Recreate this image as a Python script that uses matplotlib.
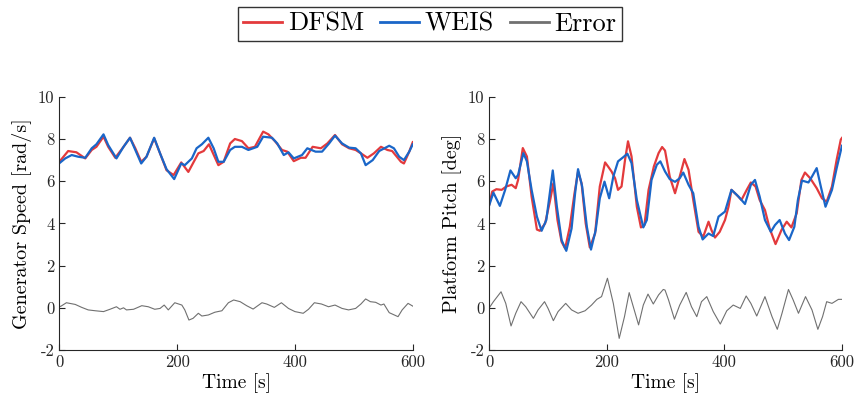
import numpy as np
import matplotlib
matplotlib.use("Agg")
import matplotlib.pyplot as plt

plt.rcParams["font.family"] = "serif"
plt.rcParams["font.serif"] = ["cmr10"]
plt.rcParams["mathtext.fontset"] = "cm"
plt.rcParams["axes.unicode_minus"] = False

# Generator speed [rad/s]
t_gs_dfsm = [0, 15, 29, 44, 55, 63, 75, 83, 95, 109, 120, 129, 139, 148, 161, 171, 182, 194, 207, 219,
             236, 245, 254, 270, 279, 290, 298, 310, 321, 332, 346, 355, 366, 378, 387, 398, 410, 418, 430,
             444, 455, 468, 480, 492, 503, 512, 523, 534, 546, 557, 565, 580, 585, 594, 600]
gs_dfsm = [6.92, 7.43, 7.37, 7.08, 7.48, 7.63, 8.11, 7.63, 7.11, 7.63, 8.06, 7.56, 6.92, 7.16, 8.03, 7.32,
           6.52, 6.29, 6.89, 6.44, 7.32, 7.43, 7.75, 6.76, 6.92, 7.79, 8.0, 7.9, 7.56, 7.63, 8.35, 8.22, 7.9,
           7.48, 7.4, 6.95, 7.11, 7.11, 7.63, 7.56, 7.79, 8.19, 7.75, 7.56, 7.48, 7.32, 7.11, 7.32, 7.63, 7.48,
           7.43, 6.92, 6.84, 7.4, 7.85]
t_gs_weis = [0, 10, 21, 32, 44, 55, 63, 75, 83, 97, 109, 120, 129, 139, 148, 161, 171, 182, 195, 207, 213,
             225, 233, 242, 253, 262, 270, 279, 290, 298, 310, 321, 336, 346, 361, 370, 381, 389, 398, 412,
             421, 435, 446, 458, 468, 480, 492, 503, 512, 520, 532, 543, 560, 568, 577, 585, 594, 600]
gs_weis = [6.85, 7.08, 7.24, 7.16, 7.11, 7.56, 7.75, 8.22, 7.71, 7.08, 7.63, 8.06, 7.48, 6.84, 7.16, 8.06,
           7.32, 6.57, 6.1, 6.84, 6.76, 7.08, 7.56, 7.75, 8.06, 7.56, 6.92, 6.92, 7.48, 7.63, 7.63, 7.48, 7.63,
           8.11, 8.06, 7.79, 7.24, 7.37, 7.08, 7.24, 7.56, 7.4, 7.4, 7.79, 8.16, 7.79, 7.59, 7.56, 7.32, 6.76,
           7.0, 7.43, 7.68, 7.56, 7.16, 7.0, 7.4, 7.75]
t_gs_err = [0, 3, 12, 27, 38, 49, 61, 75, 86, 97, 103, 109, 114, 126, 140, 151, 162, 171, 178, 185, 196,
            208, 213, 220, 227, 236, 242, 253, 264, 276, 287, 296, 307, 318, 329, 344, 352, 365, 377, 389,
            400, 414, 423, 433, 445, 457, 468, 480, 491, 503, 512, 520, 528, 537, 546, 551, 560, 575, 582,
            592, 600]
gs_err = [0.05, 0.08, 0.24, 0.16, 0.02, -0.1, -0.14, -0.18, -0.07, 0.05, -0.07, 0.0, -0.1, -0.07, 0.1,
          0.05, -0.07, -0.03, 0.13, -0.1, 0.24, 0.13, -0.1, -0.58, -0.5, -0.26, -0.39, -0.34, -0.21, -0.14,
          0.24, 0.37, 0.29, 0.1, -0.06, 0.24, 0.18, 0.02, 0.24, -0.03, -0.18, -0.26, -0.07, 0.24, 0.18, 0.05,
          0.13, -0.03, -0.1, -0.03, 0.18, 0.42, 0.29, 0.26, 0.13, 0.18, -0.23, -0.42, -0.1, 0.21, 0.08]

# Platform pitch [deg]
t_pp_dfsm = [0, 5, 12, 21, 29, 38, 45, 49, 57, 64, 72, 81, 86, 95, 103, 109, 116, 123, 129, 137, 145,
             151, 157, 164, 171, 180, 188, 197, 202, 208, 214, 219, 225, 231, 236, 242, 251, 258, 264, 271,
             280, 288, 294, 299, 307, 316, 324, 332, 339, 347, 356, 364, 373, 378, 384, 392, 401, 407, 412,
             421, 429, 438, 445, 453, 460, 469, 477, 487, 497, 506, 514, 523, 531, 537, 546, 557, 566, 574,
             583, 591, 598, 600]
pp_dfsm = [4.9, 5.51, 5.62, 5.59, 5.75, 5.83, 5.67, 6.06, 7.57, 7.17, 5.27, 3.71, 3.65, 4.0, 5.03, 5.9,
           4.16, 3.13, 2.81, 3.84, 5.43, 6.46, 5.9, 4.0, 2.86, 3.52, 5.75, 6.89, 6.7, 6.46, 6.14, 5.59, 5.75,
           7.02, 7.89, 7.17, 4.79, 3.81, 3.92, 5.59, 6.7, 7.33, 7.62, 7.45, 6.22, 5.43, 6.22, 7.05, 6.54,
           5.11, 3.6, 3.37, 4.08, 3.68, 3.33, 3.6, 4.16, 4.79, 5.59, 5.35, 5.11, 5.59, 5.94, 5.75, 5.11, 4.63,
           3.76, 3.02, 3.68, 4.08, 3.81, 4.48, 6.06, 6.41, 6.14, 5.67, 5.19, 5.03, 5.75, 7.02, 7.97, 8.05]
t_pp_weis = [0, 7, 18, 27, 36, 45, 49, 58, 64, 72, 81, 89, 97, 108, 115, 123, 131, 140, 146, 151, 158,
             166, 173, 181, 188, 196, 204, 211, 219, 228, 235, 242, 251, 262, 268, 276, 285, 291, 299, 307,
             316, 324, 330, 339, 347, 356, 363, 373, 381, 390, 401, 412, 424, 435, 445, 452, 460, 469, 479,
             486, 494, 503, 510, 519, 525, 532, 543, 549, 557, 564, 572, 583, 591, 600]
pp_weis = [4.87, 5.46, 4.83, 5.59, 6.51, 6.14, 6.3, 7.33, 6.94, 5.59, 4.32, 3.65, 4.16, 6.51, 4.79, 3.21,
           2.7, 3.76, 5.43, 6.57, 5.75, 3.84, 2.76, 3.68, 5.19, 5.98, 5.19, 6.22, 6.94, 7.14, 7.3, 6.86, 5.11,
           3.81, 4.16, 6.06, 6.78, 6.94, 6.46, 6.1, 5.97, 6.14, 6.41, 5.83, 5.43, 3.84, 3.24, 3.52, 3.4, 4.32,
           4.56, 5.59, 5.27, 4.92, 5.83, 6.06, 5.27, 4.16, 3.6, 3.92, 4.16, 3.52, 3.21, 3.84, 5.11, 6.03, 5.94,
           6.22, 6.62, 5.75, 4.79, 5.59, 6.62, 7.68]
t_pp_err = [0, 7, 20, 28, 37, 45, 54, 62, 75, 83, 94, 100, 109, 117, 130, 140, 151, 163, 174, 183, 191,
            201, 211, 221, 230, 238, 245, 254, 262, 270, 279, 288, 296, 299, 305, 315, 324, 335, 344, 353,
            361, 370, 381, 393, 404, 415, 427, 437, 445, 455, 469, 481, 490, 498, 509, 517, 526, 538, 549,
            559, 567, 574, 583, 594, 600]
pp_err = [0.0, 0.29, 0.76, 0.21, -0.86, -0.26, 0.29, 0.05, -0.5, -0.1, 0.29, -0.03, -0.61, -0.18, 0.21,
          -0.1, -0.26, -0.14, 0.13, 0.4, 0.53, 1.4, 0.21, -1.45, -0.42, 0.72, 0.05, -0.81, 0.13, 0.65, 0.18,
          0.61, 0.87, 0.84, 0.37, -0.54, 0.13, 0.73, 0.05, -0.42, 0.29, 0.53, -0.18, -0.77, -0.14, 0.13,
          -0.03, 0.56, 0.21, -0.39, 0.53, -0.42, -1.02, -0.26, 0.87, 0.37, -0.26, 0.53, -0.1, -1.02, -0.42,
          0.29, 0.21, 0.4, 0.4]

ylabels = ["Generator Speed [rad/s]", "Platform Pitch [deg]"]
yticks = [-2, 0, 2, 4, 6, 8, 10]
xticks = [0, 200, 400, 600]

red = "#e33a3c"
blue = "#1a66c8"
grey = "#707070"

fig = plt.figure(figsize=(8.56, 4.0), dpi=100)
ax1 = fig.add_axes([0.0693, 0.125, 0.4129, 0.633])
ax2 = fig.add_axes([0.5716, 0.125, 0.412, 0.633])

panels = [
    (ax1, t_gs_dfsm, gs_dfsm, t_gs_weis, gs_weis, t_gs_err, gs_err),
    (ax2, t_pp_dfsm, pp_dfsm, t_pp_weis, pp_weis, t_pp_err, pp_err),
]

for i, (ax, td, yd, tw, yw, te, ye) in enumerate(panels):
    l1, = ax.plot(td, yd, color=red, lw=1.6, label="DFSM")
    l2, = ax.plot(tw, yw, color=blue, lw=1.6, label="WEIS")
    l3, = ax.plot(te, ye, color=grey, lw=0.8, label="Error")
    ax.set_xlim(0, 600)
    ax.set_ylim(-2, 10)
    ax.set_xticks(xticks)
    ax.set_yticks(yticks)
    ax.set_yticklabels([str(v) for v in yticks])
    ax.set_xticklabels([str(v) for v in xticks])
    ax.tick_params(direction="in", length=4, width=0.8, labelsize=12, colors="#262626")
    for s in ["top", "right"]:
        ax.spines[s].set_visible(False)
    for s in ["left", "bottom"]:
        ax.spines[s].set_color("#262626")
        ax.spines[s].set_linewidth(0.8)
    ax.set_xlabel("Time [s]", fontsize=14, labelpad=2)
    ax.set_ylabel(ylabels[i], fontsize=14.5, labelpad=4)

fig.legend(handles=[l1, l2, l3], loc="center", bbox_to_anchor=(0.502, 0.94), ncol=3,
           fontsize=19, frameon=True, fancybox=False, edgecolor="black", handlelength=1.5,
           handletextpad=0.2, columnspacing=0.6, borderpad=0.2, borderaxespad=0)
leg = fig.legends[0]
leg.get_frame().set_linewidth(1.0)
for h in leg.get_lines():
    h.set_linewidth(2.0)

fig.savefig("out.png", dpi=100)
